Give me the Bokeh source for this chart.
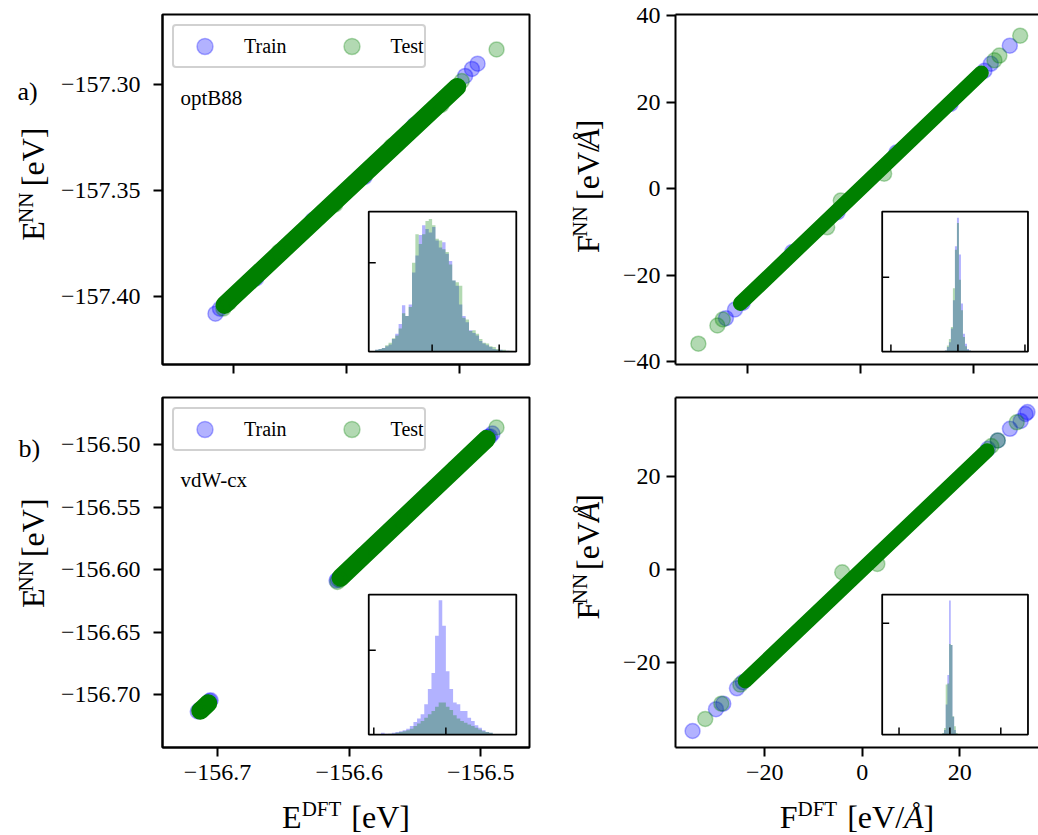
import math
from bokeh.plotting import figure
from bokeh.layouts import column, row
from bokeh.models import Range1d, LinearAxis, FixedTicker, Legend, LegendItem
from bokeh.core.properties import value
from bokeh.embed import file_html
from bokeh.resources import INLINE

FONT = "Liberation Serif"
BLUE = "#0000ff"
GREEN = "#008000"

# ---------------- data ----------------
# (a) optB88 energies [eV]
a_train_dft = [-157.4080, -157.4060, -157.3900, -157.3650, -157.3420, -157.3200, -157.2975, -157.2945, -157.2920]
a_train_nn = [-157.4081, -157.4058, -157.3915, -157.3640, -157.3435, -157.3190, -157.2958, -157.2925, -157.2900]
a_test_dft = [-157.4045, -157.4020, -157.3800, -157.3550, -157.3300, -157.3080, -157.2990, -157.2836]
a_test_nn = [-157.4057, -157.4030, -157.3790, -157.3565, -157.3290, -157.3095, -157.2982, -157.2833]
a_core = [[-157.4040, -157.3010]]

# optB88 forces [eV/A]
af_train_dft = [-29.7, -27.7, -26.0, -15.0, -5.0, 8.0, 20.0, 27.5, 28.9, 33.1]
af_train_nn = [-29.9, -27.9, -26.4, -14.6, -5.4, 8.4, 19.6, 27.3, 28.9, 33.1]
af_test_dft = [-35.8, -31.6, -30.4, -7.3, -4.3, 5.3, 29.7, 30.8, 35.4]
af_test_nn = [-35.8, -31.6, -30.2, -8.9, -2.7, 3.5, 29.7, 30.8, 35.4]
af_core = [[-26.5, 26.8]]

# (b) vdW-cx energies [eV]
b_train_dft = [-156.7150, -156.7132, -156.7060, -156.7052, -156.6096, -156.6085, -156.5800, -156.5400, -156.4945, -156.4930, -156.4912]
b_train_nn = [-156.7136, -156.7120, -156.7052, -156.7046, -156.6088, -156.6080, -156.5810, -156.5390, -156.4938, -156.4935, -156.4912]
b_test_dft = [-156.7140, -156.7075, -156.6090, -156.6070, -156.5900, -156.5600, -156.5200, -156.4960, -156.4881]
b_test_nn = [-156.7128, -156.7065, -156.6100, -156.6082, -156.5888, -156.5612, -156.5190, -156.4968, -156.4864]
b_core = [[-156.7130, -156.7070], [-156.6065, -156.4955]]

# vdW-cx forces [eV/A]
bf_train_dft = [-34.8, -30.0, -28.5, -25.7, -24.5, 25.8, 27.8, 30.3, 32.5, 33.5, 33.9]
bf_train_nn = [-34.8, -30.1, -28.9, -25.6, -24.3, 26.0, 27.8, 30.3, 32.0, 33.5, 33.9]
bf_test_dft = [-32.2, -28.9, -25.0, -4.1, 3.1, 26.5, 27.8, 31.7]
bf_test_nn = [-32.2, -28.9, -24.8, -0.6, 1.2, 26.6, 27.8, 31.7]
bf_core = [[-24.0, 25.6]]

# error histograms (insets)
a_hist_start, a_hist_width = -1.7, 0.1
a_hist_train = [2, 3, 4, 6, 8, 14, 20, 31, 52, 40, 53, 89, 108, 131, 142, 138, 134, 140, 125, 117, 123,
                110, 102, 80, 74, 53, 40, 33, 24, 21, 18, 12, 9, 7, 5, 3, 2, 2, 1, 1, 0]
a_hist_test = [2, 3, 4, 7, 10, 15, 18, 26, 43, 40, 50, 100, 132, 121, 132, 147, 149, 142, 127, 125, 115,
               112, 98, 80, 78, 74, 38, 36, 23, 24, 20, 14, 10, 9, 6, 5, 3, 2, 2, 1, 1]
af_hist_start, af_hist_width = -0.195, 0.03
af_hist_train = [0.03, 0.12, 0.25, 0.62, 1.38, 2.83, 3.60, 2.61, 1.29, 0.48, 0.21, 0.07, 0.03]
af_hist_test = [0.03, 0.16, 0.34, 0.66, 1.70, 2.74, 3.46, 1.93, 1.11, 0.39, 0.14, 0.05, 0.03]
b_hist_start, b_hist_width = -9.0, 0.5
b_hist_train = [2, 1, 1, 2, 3, 4, 5, 7, 10, 15, 19, 24, 36, 54, 73, 117, 159, 129, 75, 54, 38, 36, 28, 28,
                20, 16, 11, 8, 5, 3, 2]
b_hist_test = [0.4, 0.4, 1, 1, 2, 3, 4, 5, 7, 10, 13, 16, 20, 24, 28, 33, 38, 38, 33, 29, 23, 19, 16, 14,
               12, 10, 8, 6, 4, 3, 2]
bf_hist_start, bf_hist_width = -0.15, 1 / 30
bf_hist_train = [0.02, 0.08, 0.54, 1.07, 2.41, 1.61, 0.32, 0.08, 0.01]
bf_hist_test = [0.03, 0.12, 0.90, 0.92, 1.63, 1.61, 0.33, 0.15, 0.03]

# ticks
a_xticks = [-157.40, -157.35, -157.30]
a_yticks = [-157.40, -157.35, -157.30]
a_ylabels = ["−157.40", "−157.35", "−157.30"]
af_xticks = [-25, 0, 25]
af_yticks = [-40, -20, 0, 20, 40]
af_ylabels = ["−40", "−20", "0", "20", "40"]
b_xticks = [-156.7, -156.6, -156.5]
b_xlabels = ["−156.7", "−156.6", "−156.5"]
b_yticks = [-156.70, -156.65, -156.60, -156.55, -156.50]
b_ylabels = ["−156.70", "−156.65", "−156.60", "−156.55", "−156.50"]
bf_xticks = [-20, 0, 20]
bf_xlabels = ["−20", "0", "20"]
bf_yticks = [-20, 0, 20]
bf_ylabels = ["−20", "0", "20"]

# ---------------- helpers ----------------
FW_L, FW_R, FH = 367, 363, 350
MID = 0.34  # em offset from alphabetic baseline to the em-box centre
CHAR_W = {" ": 250, "[": 333, "]": 333, "e": 444, "V": 722, "/": 278, "Å": 611, "E": 611,
          "F": 556, "D": 722, "T": 611, "N": 722}


def text_w(t, size):
    return sum(CHAR_W.get(c, 500) for c in t) * size / 1000.0


def put_text(p, x, y, t, size, angle=0.0, italic=False):
    p.text(x=[x], y=[y], text=[t], angle=angle, text_font=value(FONT),
           text_font_size=value(f"{size}px"), text_font_style="italic" if italic else "normal",
           text_align="left", text_baseline="middle", text_color="black")


def rich_label(p, pieces, x, y, vertical):
    # pieces: (text, size, rise, italic, gap_before); (x, y) = baseline point, strip pixel units
    total = sum(g + text_w(t, s) for t, s, r, it, g in pieces)
    pos = -total / 2
    for t, s, r, it, g in pieces:
        pos += g
        up = r + MID * s
        if vertical:
            put_text(p, x - up, y + pos, t, s, angle=math.pi / 2, italic=it)
        else:
            put_text(p, x + pos, y + up, t, s, italic=it)
        pos += text_w(t, s)


def lab(sym, sup, unit_A):
    pieces = [(sym, 32, 0, False, 0), (sup, 21, 11, False, 0)]
    if unit_A:
        pieces += [("[eV/", 32, 0, False, 10), ("Å", 32, 0, True, 0), ("]", 32, 0, False, 0)]
    else:
        pieces += [("[eV]", 32, 0, False, 10)]
    return pieces


def step_xy(start, width, counts):
    xs, ys = [start], [0]
    for i, c in enumerate(counts):
        l = start + i * width
        xs += [l, l + width]
        ys += [c, c]
    xs.append(start + len(counts) * width)
    ys.append(0)
    return xs, ys


def strip(w, h):
    s = figure(width=w, height=h, x_range=Range1d(0, w), y_range=Range1d(0, h),
               min_border_left=0, min_border_right=0, min_border_top=0, min_border_bottom=0,
               x_axis_location=None, y_axis_location=None,
               output_backend="svg", toolbar_location=None)
    s.outline_line_color = None
    s.xgrid.visible = False
    s.ygrid.visible = False
    s.background_fill_color = "white"
    s.border_fill_color = "white"
    return s


def make_panel(xr, yr, fw, bl, br, bt, bb, xticks, xlabels, yticks, ylabels, boxed, ystand):
    p = figure(frame_width=fw, frame_height=FH, min_border_left=bl, min_border_right=br,
               min_border_top=bt, min_border_bottom=bb, x_range=Range1d(*xr), y_range=Range1d(*yr),
               output_backend="svg", toolbar_location=None)
    p.xgrid.visible = False
    p.ygrid.visible = False
    p.background_fill_color = "white"
    p.border_fill_color = "white"
    xa = p.below[0]
    ya = p.left[0]
    for ax, ticks, labels in ((xa, xticks, xlabels), (ya, yticks, ylabels)):
        ax.ticker = FixedTicker(ticks=ticks)
        ax.minor_tick_line_color = None
        ax.major_tick_in = 0
        ax.major_tick_out = 9
        ax.major_tick_line_width = 2
        ax.axis_line_width = 2
        ax.axis_line_color = "black"
        ax.major_label_text_font = FONT
        if labels is None:
            ax.major_label_text_font_size = "1px"
            ax.major_label_text_color = None
            ax.major_label_standoff = 0
        else:
            ax.major_label_overrides = dict(zip(ticks, labels))
            ax.major_label_text_font_size = "24px"
            ax.major_label_text_color = "black"
    if xlabels is not None:
        xa.major_label_standoff = 8
    ya.major_label_standoff = ystand
    if boxed:
        p.outline_line_color = "black"
        p.outline_line_width = 2
    else:
        p.outline_line_color = None
        top = LinearAxis(ticker=FixedTicker(ticks=[]), major_label_text_font_size="1px",
                         major_label_text_color=None,
                         major_tick_out=0, major_tick_in=0, minor_tick_out=0, minor_tick_in=0,
                         axis_line_width=2, axis_line_color="black", major_label_standoff=0)
        p.add_layout(top, "above")
    return p


def add_scatter(p, trx, tr_y, tex, tey, core, core_w):
    r1 = p.scatter(trx, tr_y, size=15, marker="circle", fill_color=BLUE, fill_alpha=0.3,
                   line_color=BLUE, line_alpha=0.3, line_width=1.5)
    p.multi_line(core, core, line_color=GREEN, line_width=core_w, line_cap="round")
    r2 = p.scatter(tex, tey, size=15, marker="circle", fill_color=GREEN, fill_alpha=0.3,
                   line_color=GREEN, line_alpha=0.3, line_width=1.5)
    return r1, r2


def add_legend(p, r1, r2):
    leg = Legend(items=[LegendItem(label="Train", renderers=[r1]), LegendItem(label="Test", renderers=[r2])],
                 location="top_left", orientation="horizontal", margin=10, padding=0,
                 glyph_width=61, glyph_height=40, label_standoff=9, spacing=34,
                 label_text_font=FONT, label_text_font_size="20px", label_text_color="black",
                 border_line_color="#cccccc", border_line_width=2, border_line_alpha=0.9,
                 background_fill_color="white", background_fill_alpha=0.8)
    if "border_radius" in Legend.properties():
        leg.border_radius = 4
    p.add_layout(leg)


def add_inset(p, fw, box, xdom, ydom, start, width, c_train, c_test, xticks, yticks):
    fx0, fx1, fy0, fy1 = box
    sx = (xdom[1] - xdom[0]) / (fx1 - fx0)
    xs0 = xdom[0] - fx0 * sx
    sy = (ydom[1] - ydom[0]) / (fy1 - fy0)
    ys0 = ydom[0] - fy0 * sy
    p.extra_x_ranges = {"ix": Range1d(xs0, xs0 + sx)}
    p.extra_y_ranges = {"iy": Range1d(ys0, ys0 + sy)}
    kw = dict(x_range_name="ix", y_range_name="iy")
    p.quad(left=[xdom[0]], right=[xdom[1]], bottom=[ydom[0]], top=[ydom[1]],
           fill_color="white", line_color=None, **kw)
    for counts, col in ((c_train, BLUE), (c_test, GREEN)):
        xs, ys = step_xy(start, width, counts)
        p.patch(xs, ys, fill_color=col, fill_alpha=0.3, line_color=None, **kw)
    tx = 7 * sx / fw
    ty = 7 * sy / FH
    p.segment(x0=xticks, y0=[ydom[0]] * len(xticks), x1=xticks, y1=[ydom[0] + ty] * len(xticks),
              line_color="black", line_width=1.5, **kw)
    p.segment(x0=[xdom[0]] * len(yticks), y0=yticks, x1=[xdom[0] + tx] * len(yticks), y1=yticks,
              line_color="black", line_width=1.5, **kw)
    p.quad(left=[xdom[0]], right=[xdom[1]], bottom=[ydom[0]], top=[ydom[1]],
           fill_color=None, line_color="black", line_width=1.8, **kw)


def frame_text(p, xr, yr, fw, t, px, py, size):
    # text with baseline at frame-pixel offsets (px from left, py from bottom), via the data ranges
    py = py + MID * size
    x = xr[0] + px / fw * (xr[1] - xr[0])
    y = yr[0] + py / FH * (yr[1] - yr[0])
    put_text(p, x, y, t, size)


BOX_L = (0.562, 0.964, 0.037, 0.437)
BOX_R = (0.5694, 0.971, 0.037, 0.437)
SL = 52          # width of the left label strip
BL = 162 - SL    # left border of the left panels

# ---------------- panel a (energy) ----------------
a_xr, a_yr = (-157.43142, -157.26903), (-157.43212, -157.26679)
p1 = make_panel(a_xr, a_yr, FW_L, BL, 31, 14, 20, a_xticks, None, a_yticks, a_ylabels, True, 13)
r1, r2 = add_scatter(p1, a_train_dft, a_train_nn, a_test_dft, a_test_nn, a_core, 18)
add_inset(p1, FW_L, BOX_L, (-1.89, 2.51), (0, 157.5), a_hist_start, a_hist_width,
          a_hist_train, a_hist_test, [0, 2], [100])
add_legend(p1, r1, r2)
frame_text(p1, a_xr, a_yr, FW_L, "optB88", 18, 259, 21)

# ---------------- panel a (forces) ----------------
af_xr, af_yr = (-40.86, 39.45), (-40.62, 40.30)
p2 = make_panel(af_xr, af_yr, FW_R, 65, 0, 14, 20, af_xticks, None, af_yticks, af_ylabels, False, 6)
add_scatter(p2, af_train_dft, af_train_nn, af_test_dft, af_test_nn, af_core, 15)
add_inset(p2, FW_R, BOX_R, (-1.13, 1.045), (0, 3.765), af_hist_start, af_hist_width,
          af_hist_train, af_hist_test, [-1, 0, 1], [2])

# ---------------- panel b (energy) ----------------
BB = 48
b_xr, b_yr = (-156.74177, -156.46304), (-156.7424, -156.4624)
p3 = make_panel(b_xr, b_yr, FW_L, BL, 31, 13, BB, b_xticks, b_xlabels, b_yticks, b_ylabels, True, 13)
r3, r4 = add_scatter(p3, b_train_dft, b_train_nn, b_test_dft, b_test_nn, b_core, 18)
add_inset(p3, FW_L, BOX_L, (-10.70, 9.77), (0, 165.9), b_hist_start, b_hist_width,
          b_hist_train, b_hist_test, [-10, 0], [100])
add_legend(p3, r3, r4)
frame_text(p3, b_xr, b_yr, FW_L, "vdW-cx", 18, 260, 21)

# ---------------- panel b (forces) ----------------
bf_xr, bf_yr = (-38.30, 36.16), (-38.35, 37.05)
p4 = make_panel(bf_xr, bf_yr, FW_R, 65, 0, 13, BB, bf_xticks, bf_xlabels, bf_yticks, bf_ylabels, False, 6)
add_scatter(p4, bf_train_dft, bf_train_nn, bf_test_dft, bf_test_nn, bf_core, 15)
add_inset(p4, FW_R, BOX_R, (-1.331, 1.534), (0, 2.518), bf_hist_start, bf_hist_width,
          bf_hist_train, bf_hist_test, [-1, 0, 1], [2])

# ---------------- label strips ----------------
H1 = 384
H2 = 13 + FH + BB
H3 = 835 - H1 - H2
sL1 = strip(SL, H1)
put_text(sL1, 17, H1 - 93.5 + MID * 26, "a)", 26)
rich_label(sL1, lab("E", "NN", False), 43.5, H1 - 189, True)
sM1 = strip(50, H1)
rich_label(sM1, lab("F", "NN", True), 38, H1 - 189, True)
sL2 = strip(SL, H2)
put_text(sL2, 18, H2 - (453.3 - H1) + MID * 26, "b)", 26)
rich_label(sL2, lab("E", "NN", False), 43.5, H2 - (572 - H1), True)
sM2 = strip(50, H2)
rich_label(sM2, lab("F", "NN", True), 38, H2 - (572 - H1), True)
sB = strip(1038, H3)
rich_label(sB, lab("E", "DFT", False), 345.5, 835 - 827, False)
rich_label(sB, lab("F", "DFT", True), 856.5, 835 - 827, False)

layout = column(row(sL1, p1, sM1, p2), row(sL2, p3, sM2, p4), sB)
open("out.html", "w").write(file_html(layout, INLINE))
